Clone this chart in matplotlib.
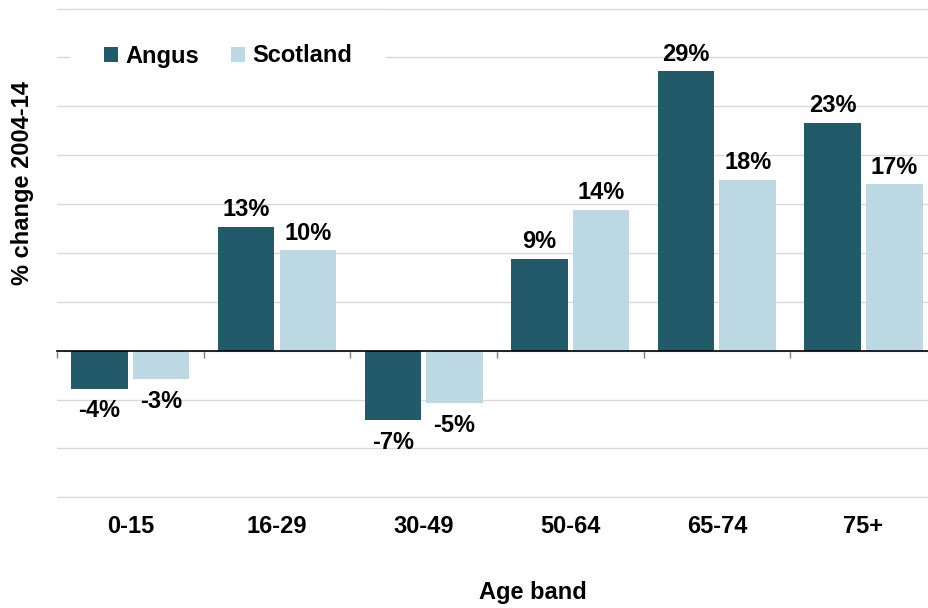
import matplotlib
matplotlib.use('Agg')
import matplotlib.pyplot as plt
import numpy as np

# % change 2004-14 by age band
age_bands = ['0-15', '16-29', '30-49', '50-64', '65-74', '75+']
angus = [-3.9, 12.7, -7.1, 9.4, 28.6, 23.3]
scotland = [-2.9, 10.3, -5.4, 14.4, 17.5, 17.0]
angus_labels = ['-4%', '13%', '-7%', '9%', '29%', '23%']
scotland_labels = ['-3%', '10%', '-5%', '14%', '18%', '17%']

plt.rcParams['font.family'] = ['Liberation Sans', 'DejaVu Sans']
plt.rcParams['font.weight'] = 'bold'

dark = '#235a69'
light = '#bcd8e3'
fs = 17

fig = plt.figure(figsize=(9.29, 6.08), dpi=100)
ax = fig.add_axes([0.0614, 0.1804, 0.947, 0.8064])

x = np.arange(len(age_bands))
off = 0.21
w = 0.385
b1 = ax.bar(x - off, angus, width=w, color=dark, label='Angus', zorder=3)
b2 = ax.bar(x + off, scotland, width=w, color=light, label='Scotland', zorder=3)

# value labels above / below the bars
for xs, vals, labs in [(x - off, angus, angus_labels), (x + off, scotland, scotland_labels)]:
    for xi, v, lab in zip(xs, vals, labs):
        dy = 7.5 if v > 0 else -20.5
        ax.annotate(lab, xy=(xi, v), xytext=(0, dy), textcoords='offset points',
                    ha='center', va='baseline', fontsize=fs, fontweight='bold', zorder=4)

ax.set_xlim(-0.5, 5.5)
ax.set_ylim(-15.1, 35.05)
ax.set_yticks(np.arange(-15, 36, 5))
ax.yaxis.grid(True, color='#d9d9d9', linewidth=1)
ax.set_axisbelow(True)
ax.tick_params(axis='y', length=0, labelleft=False)

for s in ['top', 'right', 'left']:
    ax.spines[s].set_visible(False)
ax.spines['bottom'].set_position(('data', 0))
ax.spines['bottom'].set_color('black')
ax.spines['bottom'].set_linewidth(1.2)
ax.spines['bottom'].set_zorder(5)
ax.set_xticks(np.arange(-0.5, 6, 1))
ax.tick_params(axis='x', direction='out', length=5, width=1, color='#7f7f7f', labelbottom=False)

# category labels at the bottom of the plot
for xi, lab in zip(x, age_bands):
    ax.text(xi, -0.0585, lab, transform=ax.get_xaxis_transform(), ha='center', va='center',
            fontsize=fs, fontweight='bold')

fig.text(533 / 929, 0.026, 'Age band', ha='center', va='center', fontsize=fs, fontweight='bold')
fig.text(0.0237, 0.699, '% change 2004-14', ha='center', va='center', rotation=90,
         fontsize=fs, fontweight='bold')

leg = ax.legend(handles=[b1, b2], loc='center left', bbox_to_anchor=(70 / 929, 552 / 608),
                bbox_transform=fig.transFigure, ncol=2, frameon=True, facecolor='white',
                edgecolor='none', framealpha=1, fancybox=False, borderpad=1.45, borderaxespad=0,
                handlelength=0.6, handleheight=0.6, handletextpad=0.3, columnspacing=1.35,
                prop={'size': fs, 'weight': 'bold'})

fig.savefig('out.png', dpi=100)
